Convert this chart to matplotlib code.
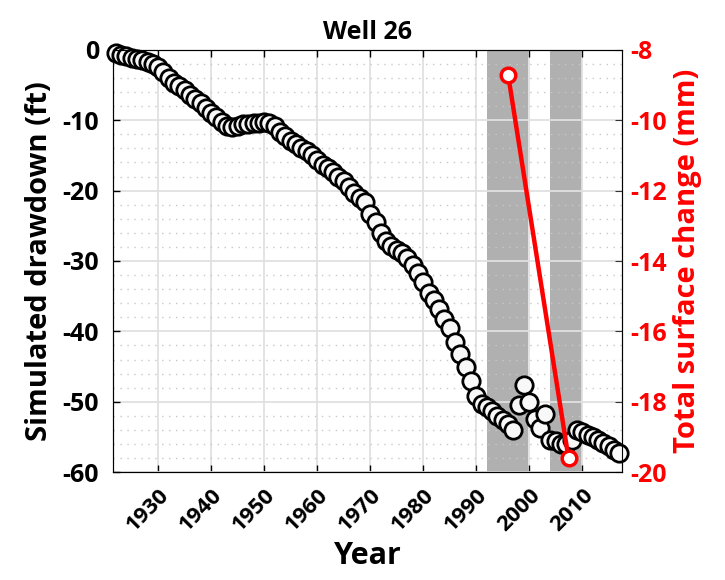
import matplotlib
matplotlib.use("Agg")
import matplotlib.pyplot as plt
from matplotlib.ticker import MultipleLocator

years = list(range(1922, 2018))
drawdown = [
    -0.5, -0.7, -0.9, -1.1, -1.3, -1.5, -1.7, -2.0, -2.5, -3.2,      # 1922-1931
    -4.0, -4.7, -5.2, -5.7, -6.4, -7.0, -7.6, -8.3, -9.0, -9.6,      # 1932-1941
    -10.3, -10.8, -11.0, -10.8, -10.6, -10.5, -10.4, -10.4, -10.3, -10.4,  # 1942-1951
    -10.8, -11.7, -12.3, -12.9, -13.4, -13.9, -14.4, -14.9, -15.6, -16.3,  # 1952-1961
    -16.8, -17.3, -18.0, -18.7, -19.5, -20.3, -21.0, -21.6, -23.3, -24.5,  # 1962-1971
    -26.0, -27.1, -27.8, -28.4, -28.8, -29.6, -30.6, -31.7, -33.0, -34.5,  # 1972-1981
    -35.5, -36.8, -38.2, -39.5, -41.5, -43.2, -45.0, -47.0, -49.2, -50.3,  # 1982-1991
    -50.7, -51.3, -52.0, -52.6, -53.2, -54.0, -50.4, -47.6, -50.0, -52.4,  # 1992-2001
    -53.7, -51.7, -55.4, -55.6, -56.0, -56.0, -55.5, -54.0, -54.3, -54.7,  # 2002-2011
    -55.0, -55.4, -55.9, -56.3, -56.8, -57.3,                          # 2012-2017
]

insar_years = [1996.0, 2007.4]
surface_change = [-8.7, -19.6]

span_starts = [1992.0, 2004.0]
span_ends = [1999.7, 2009.9]

xticks = list(range(1930, 2011, 10))

plt.rcParams["font.family"] = ["Open Sans", "DejaVu Sans"]
plt.rcParams["font.weight"] = "bold"

fig = plt.figure(figsize=(7.25, 5.8), dpi=100)
ax = fig.add_axes([0.156, 0.186, 0.702, 0.728])

for s, e in zip(span_starts, span_ends):
    ax.axvspan(s, e, color="#b0b0b0", lw=0, zorder=0.2)

ax.plot(years, drawdown, "o", ms=12.5, mfc="#f8f8f8", mec="black", mew=2.0,
        zorder=3, clip_on=False)

ax.set_xlim(1921.5, 2017.5)
ax.set_ylim(-60, 0)
ax.set_xticks(xticks)
ax.set_xticklabels([str(t) for t in xticks], rotation=45, ha="right",
                   rotation_mode="anchor", fontsize=16, fontweight="bold")
ax.set_yticks(range(-60, 1, 10))
ax.set_yticklabels([str(t) for t in range(-60, 1, 10)], fontsize=18, fontweight="bold")
ax.yaxis.set_minor_locator(MultipleLocator(2))
ax.set_axisbelow(True)
ax.grid(True, which="major", color="#e0e0e0", lw=1.3)
ax.grid(True, which="minor", axis="y", color="#c8c8c8", lw=1.0, ls=(0, (1, 4)))
ax.tick_params(which="major", direction="in", length=5, top=True, right=False, width=1)
ax.tick_params(which="minor", length=0)
ax.tick_params(axis="x", pad=9)
ax.tick_params(axis="y", pad=10)
for sp in ax.spines.values():
    sp.set_color("#333333")
ax.set_xlabel("Year", fontsize=22, fontweight="bold", labelpad=4)
ax.set_ylabel("Simulated drawdown (ft)", fontsize=21, fontweight="bold", labelpad=6)
ax.set_title("Well 26", fontsize=18, fontweight="bold", pad=8)

ax2 = ax.twinx()
ax2.plot(insar_years, surface_change, "-o", color="red", lw=3.2, ms=10.5,
         mfc="white", mec="red", mew=2.5, zorder=4, clip_on=False)
ax2.set_ylim(-20, -8)
ax2.set_yticks(range(-20, -7, 2))
ax2.set_yticklabels([str(t) for t in range(-20, -7, 2)], fontsize=18,
                    fontweight="bold", color="red")
ax2.tick_params(direction="in", length=5, colors="#333333", labelcolor="red", pad=6)
ax2.set_ylabel("Total surface change (mm)", fontsize=21, fontweight="bold",
               color="red", labelpad=4)

fig.savefig("out.png", dpi=100)
